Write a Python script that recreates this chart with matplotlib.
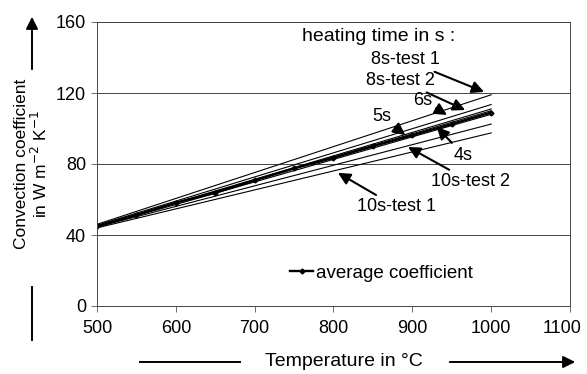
import matplotlib
matplotlib.use("Agg")
import matplotlib.pyplot as plt
import matplotlib.transforms as mtransforms
from matplotlib.lines import Line2D

plt.rcParams['font.family'] = ['Liberation Sans', 'DejaVu Sans']

# Data (straight fitted lines, temperature 500..1000 °C)
x_ends = [500, 1000]
series = {
    "8s-test 1": [46.0, 119.0],
    "8s-test 2": [45.5, 113.5],
    "6s": [45.0, 111.0],
    "5s": [45.0, 110.0],
    "4s": [44.5, 108.0],
    "10s-test 2": [44.5, 102.5],
    "10s-test 1": [44.0, 97.5],
}
avg_x = [500, 550, 600, 650, 700, 750, 800, 850, 900, 950, 1000]
avg_y = [45.0, 51.3, 58.2, 63.8, 70.8, 77.5, 83.5, 90.0, 96.2, 102.5, 109.0]

x_ticks = [500, 600, 700, 800, 900, 1000, 1100]
y_ticks = [0, 40, 80, 120, 160]

# label text positions and arrow tips (data coords)
labels = {
    "8s-test 1": ((935, 138.6), (991, 120.6), 'right'),
    "8s-test 2": ((929, 127.0), (967, 110.4), 'right'),
    "6s": ((925, 116.0), (944, 107.6), 'right'),
    "5s": ((873, 106.5), (891, 96.3), 'right'),
    "4s": ((953, 85.0), (931, 100.8), 'left'),
    "10s-test 2": ((924, 70.0), (894.5, 89.6), 'left'),
    "10s-test 1": ((830, 55.8), (805.7, 75.0), 'left'),
}

fig = plt.figure(figsize=(5.87, 3.74), dpi=100)
ax = fig.add_axes([97/587, (374-306)/374, (570-97)/587, (306-22)/374])

for name, ys in series.items():
    ax.plot(x_ends, ys, color='black', lw=0.8)
ax.plot(avg_x, avg_y, color='black', lw=1.7, marker='D', ms=2.5, label='average coefficient')

ax.set_xlim(500, 1100)
ax.set_ylim(0, 160)
ax.set_xticks(x_ticks)
ax.set_yticks(y_ticks)
ax.tick_params(labelsize=13, direction='out', length=4, width=0.6, color='#555555', pad=4)
ax.tick_params(axis='x', pad=6)
ax.yaxis.grid(True, color='#444444', lw=0.7)
ax.set_axisbelow(True)
for s in ax.spines.values():
    s.set_color('#444444')
    s.set_linewidth(0.7)

# shift last x tick label left so it stays inside the figure (as in the reference)
last = ax.get_xticklabels()[-1]
last.set_transform(last.get_transform() +
                   mtransforms.ScaledTranslation(-8/100, 0, fig.dpi_scale_trans))

ax.text(760, 152, "heating time in s :", fontsize=14, ha='left', va='center')
for name, (txt, tip, ha) in labels.items():
    ax.annotate(name, xy=tip, xytext=txt, fontsize=13, ha=ha, va='center',
                arrowprops=dict(arrowstyle='-|>', color='black', lw=1.5,
                                mutation_scale=18, shrinkA=1, shrinkB=0))

ax.legend(loc='center left', bbox_to_anchor=(0.393, 0.115), frameon=False,
          fontsize=13.5, handlelength=1.2, handletextpad=0.15, borderaxespad=0)

# Axis titles with arrows (figure pixel coords)
W, H = 587, 374
def fx(px):
    return px / W
def fy(py):
    return 1 - py / H

fig.text(fx(32), fy(164), "Convection coefficient\nin W m$^{-2}$ K$^{-1}$", rotation=90,
         fontsize=12.5, ha='center', va='center', linespacing=1.0)
fig.add_artist(Line2D([fx(32), fx(32)], [fy(287), fy(340)], color='black', lw=1.4))
fig.patches.append(matplotlib.patches.FancyArrowPatch((fx(32), fy(72)), (fx(32), fy(14)),
                   transform=fig.transFigure, arrowstyle='-|>', mutation_scale=18,
                   color='black', lw=1.4))

fig.text(fx(344), fy(362), "Temperature in °C", fontsize=14, ha='center', va='center')
fig.add_artist(Line2D([fx(140), fx(240)], [fy(362), fy(362)], color='black', lw=1.4))
fig.patches.append(matplotlib.patches.FancyArrowPatch((fx(447), fy(362)), (fx(578), fy(362)),
                   transform=fig.transFigure, arrowstyle='-|>', mutation_scale=18,
                   color='black', lw=1.4))

fig.savefig("out.png", dpi=100)
